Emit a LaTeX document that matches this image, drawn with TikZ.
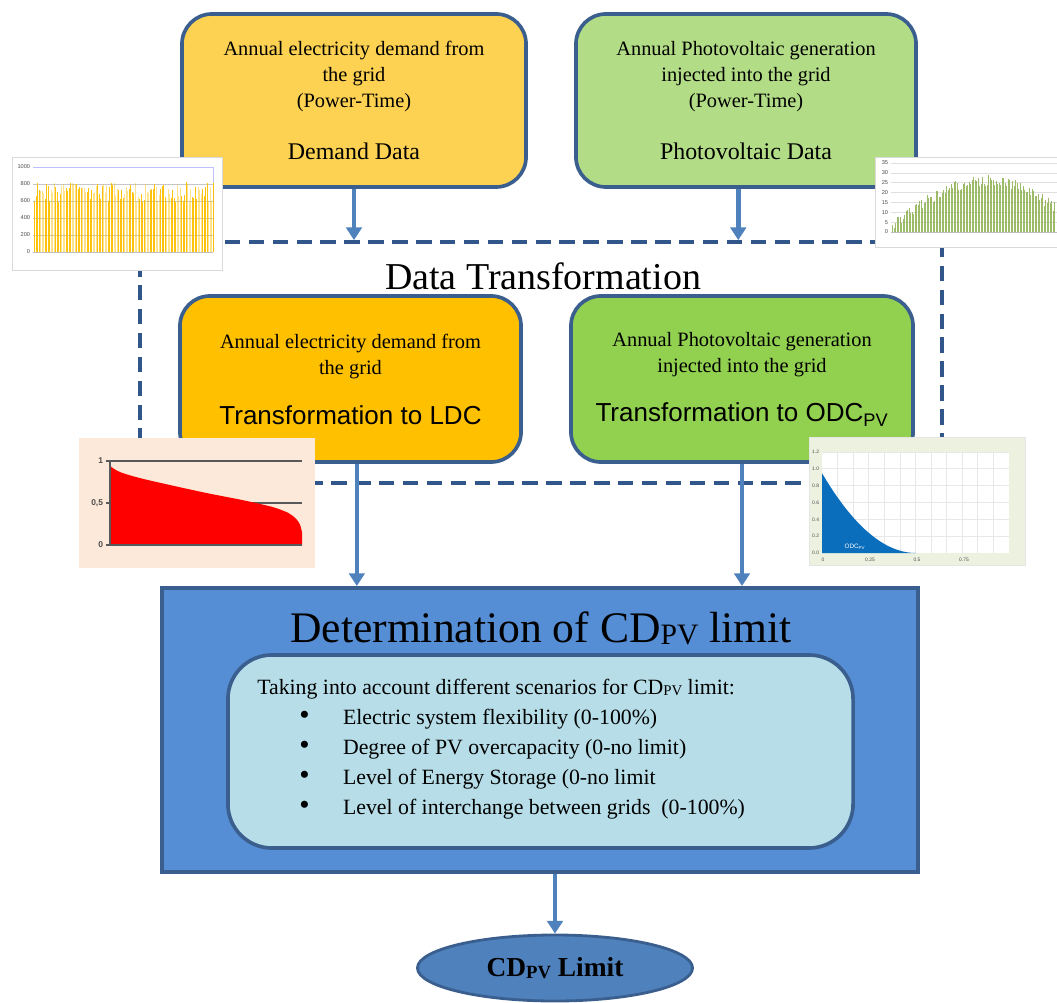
\documentclass[tikz,border=0pt]{standalone}
\usepackage{fontspec}
\setmainfont{Liberation Serif}
\setsansfont{Liberation Sans}
\usetikzlibrary{positioning, arrows.meta, shapes.geometric}

\definecolor{boxline}{HTML}{3A5F8E}
\definecolor{framecol}{HTML}{31568A}
\definecolor{demfill}{HTML}{FDD152}
\definecolor{pvfill}{HTML}{B2DD86}
\definecolor{ldcfill}{HTML}{FFC000}
\definecolor{odcfill}{HTML}{92D050}
\definecolor{cdfill}{HTML}{558ED5}
\definecolor{scenfill}{HTML}{B7DEE8}
\definecolor{limfill}{HTML}{4F81BD}
\definecolor{flowcol}{HTML}{4F81BD}
\definecolor{chartyellow}{HTML}{FFC000}
\definecolor{chartgreen}{HTML}{8EB04F}
\definecolor{ldcbg}{HTML}{FDE9D9}
\definecolor{odcbg}{HTML}{ECF1E0}
\definecolor{odcblue}{HTML}{0A6EBD}

\newcommand{\cdpv}{CD\raisebox{-0.1ex}{\scalebox{0.68}{PV}}}
\newcommand{\bul}{\hspace*{30pt}\makebox[31pt][l]{\scalebox{1.35}{\textbullet}}}

\begin{document}
\begin{tikzpicture}[x=0.025cm, y=-0.025cm, >={Triangle[width=11pt,length=9pt]},
    inbox/.style={draw=boxline, line width=2.6pt, rounded corners=0.75cm, align=center,
        inner sep=0pt, font=\fontsize{14.5}{18.5}\selectfont},
    flow/.style={->, draw=flowcol, fill=flowcol, line width=3.2pt},
    chartlabel/.style={font=\sffamily\fontsize{4}{4}\selectfont, text=gray!60!black, inner sep=0.5pt}]

    \useasboundingbox (0,0) rectangle (1057,1003);

    % Data transformation frame
    \node[draw=framecol, line width=2.6pt, dash pattern=on 11pt off 6pt, inner sep=0pt,
        minimum width=20.05cm, minimum height=6.025cm] (trans) at (541,362.5) {};
    \node[anchor=base, font=\fontsize{27}{32}\selectfont] (transname) at (543,290) {Data Transformation};

    % Input boxes
    \node[inbox, fill=demfill, minimum width=8.6cm, minimum height=4.325cm] (dem) at (354,100.5)
        {Annual electricity demand from\\the grid\\(Power-Time)\\[18pt]{\fontsize{17}{20}\selectfont Demand Data}};
    \node[inbox, fill=pvfill, minimum width=8.5cm, minimum height=4.325cm] (pv) at (746,100.5)
        {Annual Photovoltaic generation\\injected into the grid\\(Power-Time)\\[18pt]{\fontsize{17}{20}\selectfont Photovoltaic Data}};

    % Transformation boxes
    \node[inbox, fill=ldcfill, minimum width=8.525cm, minimum height=4.15cm] (ldc) at (350.5,379)
        {Annual electricity demand from\\the grid\\[17pt]{\sffamily\fontsize{18.5}{22}\selectfont Transformation to LDC}};
    \node[inbox, fill=odcfill, minimum width=8.55cm, minimum height=4.15cm] (odc) at (742,379)
        {Annual Photovoltaic generation\\injected into the grid\\[17pt]{\sffamily\fontsize{18.5}{22}\selectfont Transformation to ODC\textsubscript{PV}}};

    % Determination box
    \node[draw=boxline, line width=2.8pt, fill=cdfill, inner sep=0pt,
        minimum width=18.9cm, minimum height=7.1cm] (cd) at (540,730) {};
    \node[anchor=base, font=\fontsize{31}{36}\selectfont] (cdname) at (541,642) {Determination of \cdpv{} limit};
    \node[draw=boxline, line width=2.6pt, fill=scenfill, rounded corners=1.1cm, inner sep=0pt,
        minimum width=15.625cm, minimum height=4.825cm] (scen) at (540.5,751.5) {};
    \node[anchor=north west, align=left, inner sep=0pt, font=\fontsize{15.5}{21.3}\selectfont] (scentext) at (257,679)
        {Taking into account different scenarios for \cdpv{} limit:\\
         \bul Electric system flexibility (0-100\%)\\
         \bul Degree of PV overcapacity (0-no limit)\\
         \bul Level of Energy Storage (0-no limit\\
         \bul Level of interchange between grids\ \ (0-100\%)};

    % Result
    \node[ellipse, draw=boxline, line width=2pt, fill=limfill, inner sep=0pt,
        minimum width=6.875cm, minimum height=1.65cm, font=\bfseries\fontsize{19.5}{22}\selectfont] (lim) at (555,968)
        {\cdpv{} Limit};

    % Connectors
    \draw[flow] (dem.south) -- (dem.south |- trans.north);
    \draw[flow] ([xshift=-5.5pt]pv.south) -- ([xshift=-5.5pt]pv.south |- trans.north);
    \draw[flow] ([xshift=4.5pt]ldc.south) -- ([xshift=4.5pt]ldc.south |- cd.north);
    \draw[flow] (odc.south) -- (odc.south |- cd.north);
    \draw[flow] (lim.north |- cd.south) -- (lim.north);

    % Demand chart
    \pgfmathsetseed{3}
    \fill[white] (12,157) rectangle (222,270);
    \draw[gray!30] (12,157) rectangle (222,270);
    \foreach \val in {200,400,600,800}
        \draw[gray!45, line width=0.6pt] (33,{252-0.085*\val}) -- (213,{252-0.085*\val});
    \draw[blue!25, line width=0.6pt] (33,167) -- (213,167) -- (213,252);
    \foreach \i in {0,...,119} {
        \pgfmathsetmacro\h{0.085*(580+240*rnd)}
        \pgfmathsetmacro\op{mod(\i,7)<4 ? 0.95 : 0.45}
        \fill[chartyellow, opacity=\op] ({34+1.5*\i},252) rectangle ({35.4+1.5*\i},{252-\h});
    }
    \draw[gray!50, line width=0.6pt] (33,252) -- (213,252);
    \foreach \val in {0,200,400,600,800,1000}
        \node[chartlabel, anchor=east] (dl\val) at (31,{252-0.085*\val}) {\val};

    % Photovoltaic chart
    \fill[white] (875,157) rectangle (1057,247);
    \draw[gray!30] (875,157) rectangle (1057,247);
    \foreach \val in {5,10,...,35}
        \draw[gray!25, line width=0.5pt] (891,{232-1.97*\val}) -- (1057,{232-1.97*\val});
    \foreach \i in {0,...,108} {
        \pgfmathsetmacro\h{1.97*max(2, 4+22*sin(1.4516*\i)+6*rnd-3)}
        \fill[chartgreen, opacity=0.85] ({892+1.5*\i},232) rectangle ({893.2+1.5*\i},{232-\h});
    }
    \draw[gray!50, line width=0.5pt] (891,232) -- (1057,232);
    \foreach \val in {0,5,...,35}
        \node[chartlabel, anchor=east] (pl\val) at (889,{232-1.97*\val}) {\val};

    % LDC chart
    \fill[ldcbg] (79,438) rectangle (315,568);
    \draw[gray!70!black, line width=1pt] (110,461) -- (302,461);
    \draw[gray!70!black, line width=1pt] (110,503) -- (302,503);
    \fill[red] (110,545) -- plot[smooth] coordinates {(110,466) (119.6,471.9) (138.8,477.8) (167.6,484.5)
        (206,492.9) (244.4,500.5) (273.2,507.2) (288.6,513.1) (296.2,519) (300.1,524.8) (302,532.4)}
        -- (302,545) -- cycle;
    \draw[gray!70!black, line width=1pt] (106,461) -- (110,461) -- (110,545) -- (106,545);
    \draw[gray!70!black, line width=1pt] (106,503) -- (110,503);
    \draw[gray!70!black, line width=1pt] (110,545) -- (302,545);
    \node[chartlabel, font=\sffamily\bfseries\fontsize{6}{6}\selectfont, anchor=east] (l1) at (104,461) {1};
    \node[chartlabel, font=\sffamily\bfseries\fontsize{6}{6}\selectfont, anchor=east] (l05) at (104,503) {0,5};
    \node[chartlabel, font=\sffamily\bfseries\fontsize{6}{6}\selectfont, anchor=east] (l0) at (104,545) {0};

    % ODC chart
    \fill[odcbg] (809,437) rectangle (1025,565);
    \draw[gray!20] (809,437) rectangle (1025,565);
    \fill[white] (822,452) rectangle (1009,553);
    \foreach \k in {1,...,11}
        \draw[gray!18, line width=0.5pt] ({822+187*\k/12},452) -- ({822+187*\k/12},553);
    \foreach \k in {1,...,6}
        \draw[gray!18, line width=0.5pt] (822,{553-16.83*\k}) -- (1009,{553-16.83*\k});
    \fill[odcblue] (822,553) -- plot[domain=0:0.5, samples=40] ({822+188*\x},{553-84*0.95*(1-2*\x)^2}) -- cycle;
    \node[chartlabel, text=white, font=\sffamily\fontsize{4.5}{5}\selectfont] (odclab) at (855,547) {ODC\textsubscript{PV}};
    \foreach \val/\lab in {0/0.0,1/0.2,2/0.4,3/0.6,4/0.8,5/1.0,6/1.2}
        \node[chartlabel, font=\sffamily\fontsize{3.5}{4}\selectfont, anchor=east] (ol\val) at (820,{553-16.83*\val}) {\lab};
    \foreach \val/\lab in {0/0,1/0.25,2/0.5,3/0.75}
        \node[chartlabel, font=\sffamily\fontsize{3.5}{4}\selectfont] (ox\val) at ({823+47*\val},560) {\lab};

\end{tikzpicture}
\end{document}
